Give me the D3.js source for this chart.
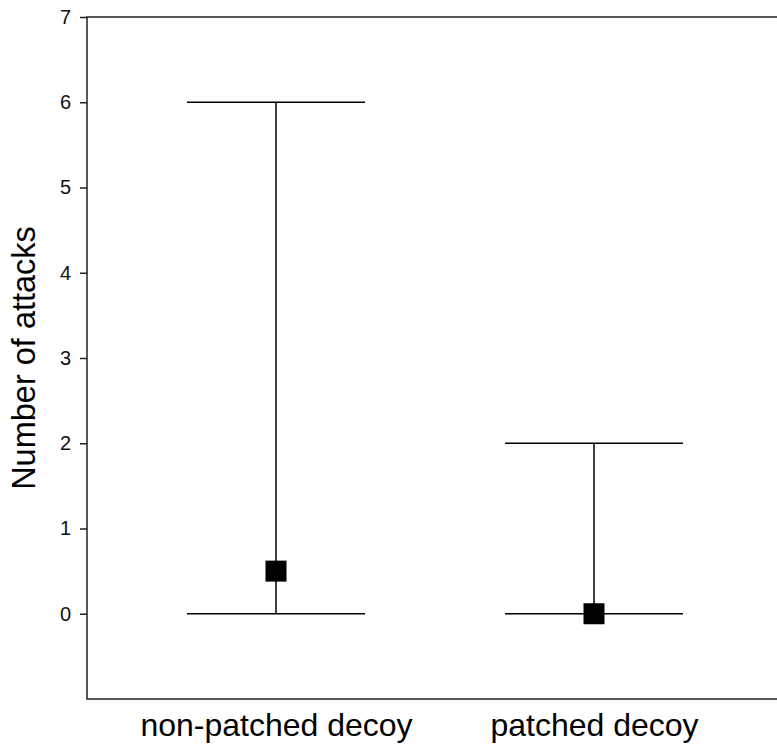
<!DOCTYPE html>
<html>
<head>
<meta charset="utf-8">
<script src="https://cdn.jsdelivr.net/npm/d3@7"></script>
<style>
  body { margin: 0; background: #fff; }
  text { font-family: Arial, "Liberation Sans", sans-serif; }
</style>
</head>
<body>
<svg width="777" height="751"></svg>
<script>
const categories = ['non-patched decoy', 'patched decoy']
const medians = [0.5, 0]
const lows = [0, 0]
const highs = [6, 2]
const yTicks = [0, 1, 2, 3, 4, 5, 6, 7]

const svg = d3.select('svg')
const margin = {top: 17, right: -3, bottom: 52, left: 87}
const innerWidth = 777 - margin.left - margin.right
const innerHeight = 751 - margin.top - margin.bottom

const data = categories.map((c, i) => ({cat: c, med: medians[i], lo: lows[i], hi: highs[i]}))

// categories sit at 1/4-ish of the box, box runs off the right edge
const xScale = d3.scalePoint()
    .domain(categories)
    .range([30, 666])
    .padding(0.5)

const yScale = d3.scaleLinear()
    .domain([-1, 7])
    .range([innerHeight, 0])

const g = svg.append('g')
    .attr('transform', `translate(${margin.left},${margin.top})`)

// frame
g.append('rect')
    .attr('width', innerWidth).attr('height', innerHeight)
    .attr('fill', 'none').attr('stroke', '#222').attr('stroke-width', 1.5)

const yAxis = g.append('g')
    .call(d3.axisLeft(yScale).tickValues(yTicks).tickSize(7).tickPadding(9).tickFormat(d3.format('d')))
yAxis.select('.domain').remove()
yAxis.selectAll('line').attr('stroke', '#222').attr('stroke-width', 1.5)
yAxis.selectAll('text').attr('font-size', 20).attr('fill', '#111')

const xAxis = g.append('g')
    .attr('transform', `translate(0,${innerHeight})`)
    .call(d3.axisBottom(xScale).tickSize(0).tickPadding(0))
xAxis.select('.domain').remove()
xAxis.selectAll('text').attr('font-size', 32).attr('fill', '#000')
    .attr('dy', null).attr('y', 736 - margin.top - innerHeight)

svg.append('text')
    .attr('transform', `translate(35,${margin.top + yScale(3)}) rotate(-90)`)
    .attr('text-anchor', 'middle')
    .attr('font-size', 32.5)
    .text('Number of attacks')

const capHalf = 89
const marks = g.selectAll('.mark').data(data).enter().append('g')
    .attr('transform', d => `translate(${xScale(d.cat)},0)`)

marks.append('line')
    .attr('y1', d => yScale(d.lo)).attr('y2', d => yScale(d.hi))
    .attr('stroke', '#000').attr('stroke-width', 1.5)
marks.append('line')
    .attr('x1', -capHalf).attr('x2', capHalf)
    .attr('y1', d => yScale(d.hi)).attr('y2', d => yScale(d.hi))
    .attr('stroke', '#000').attr('stroke-width', 1.5)
marks.append('line')
    .attr('x1', -capHalf).attr('x2', capHalf)
    .attr('y1', d => yScale(d.lo)).attr('y2', d => yScale(d.lo))
    .attr('stroke', '#000').attr('stroke-width', 1.5)
marks.append('rect')
    .attr('x', -10.5).attr('width', 21)
    .attr('y', d => yScale(d.med) - 10.5).attr('height', 21)
    .attr('fill', '#000')
</script>
</body>
</html>
